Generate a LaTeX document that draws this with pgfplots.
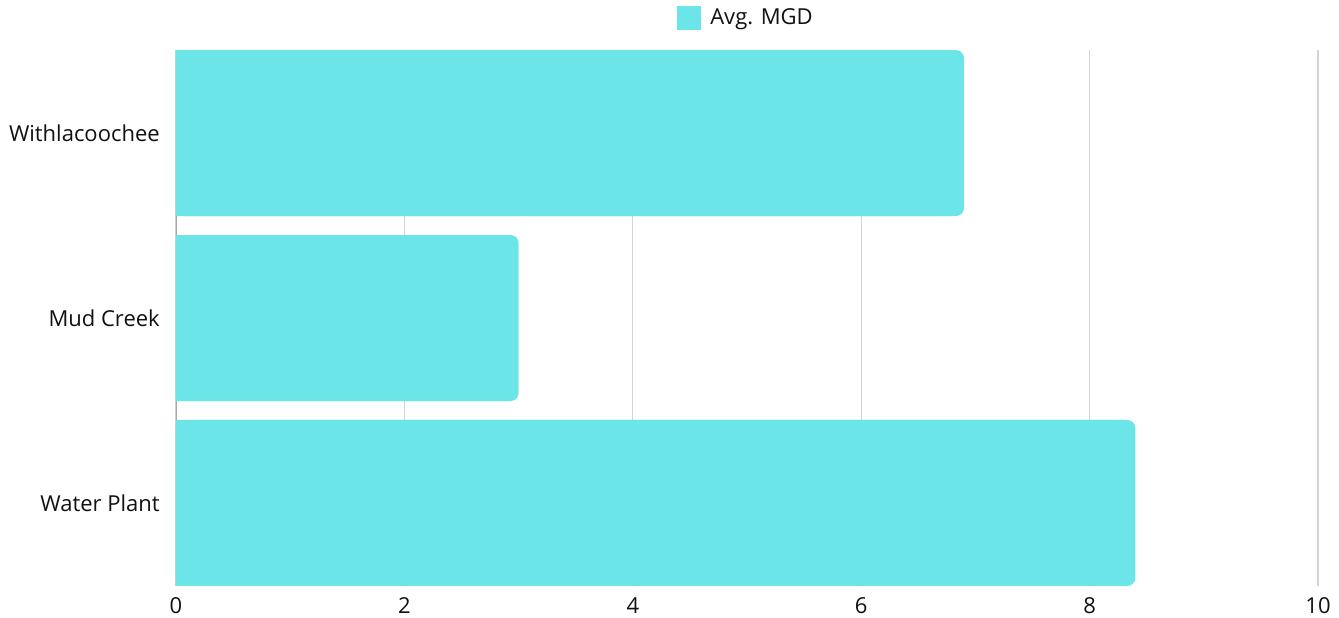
\documentclass[border=0pt]{standalone}
\usepackage{fontspec}
\setmainfont{Open Sans}
\usepackage{pgfplots}
\pgfplotsset{compat=1.18}
\definecolor{barcyan}{HTML}{6CE5E8}
\definecolor{gridgray}{HTML}{D4D4D4}
\definecolor{txt}{HTML}{111111}
\begin{document}
\fontsize{11}{13}\selectfont
\begin{tikzpicture}
\begin{axis}[
    name=ax,
    scale only axis,
    width=571pt, height=268pt,
    xbar,
    bar width=83pt,
    xmin=0, xmax=10,
    ymin=-0.449, ymax=2.449,
    xtick={0,2,4,6,8,10},
    ytick={0,1,2},
    yticklabels={Water Plant, Mud Creek, Withlacoochee},
    axis line style={draw=none},
    tick style={draw=none},
    xmajorgrids,
    grid style={gridgray, line width=0.6pt},
    ticklabel style={text=txt},
    /pgf/number format/assume math mode=true,
    xticklabel style={anchor=north, inner ysep=0pt, text depth=0pt, text height=7.8pt, yshift=-5.5pt},
    yticklabel style={xshift=0pt},
    legend style={at={(0.5,1)}, anchor=south, yshift=7pt, draw=none,
        font=\fontsize{11}{13}\selectfont, text=txt,
        legend cell align=left},
    legend image code/.code={\fill[barcyan, sharp corners] (0pt,-6pt) rectangle (12pt,6pt); \path (14.5pt,0pt);},
]
\draw[gray!70, line width=0.8pt] (axis cs:0,-0.449) -- (axis cs:0,2.449);
% square left ends under the rounded bars
\addplot[fill=barcyan, draw=none, forget plot, x filter/.expression={x-0.1}] coordinates {
    (8.4,0) (3.0,1) (6.9,2)
};
\addplot[fill=barcyan, draw=none, rounded corners=4pt] coordinates {
    (8.4,0) (3.0,1) (6.9,2)
};
\addlegendentry{Avg. MGD}
\end{axis}
\pgfresetboundingbox
\path (ax.south west) ++(-88pt,-15.5pt) coordinate (bl);
\path (ax.north east) ++(10.5pt,25pt) coordinate (tr);
\path (bl) rectangle (tr);
\end{tikzpicture}
\end{document}
